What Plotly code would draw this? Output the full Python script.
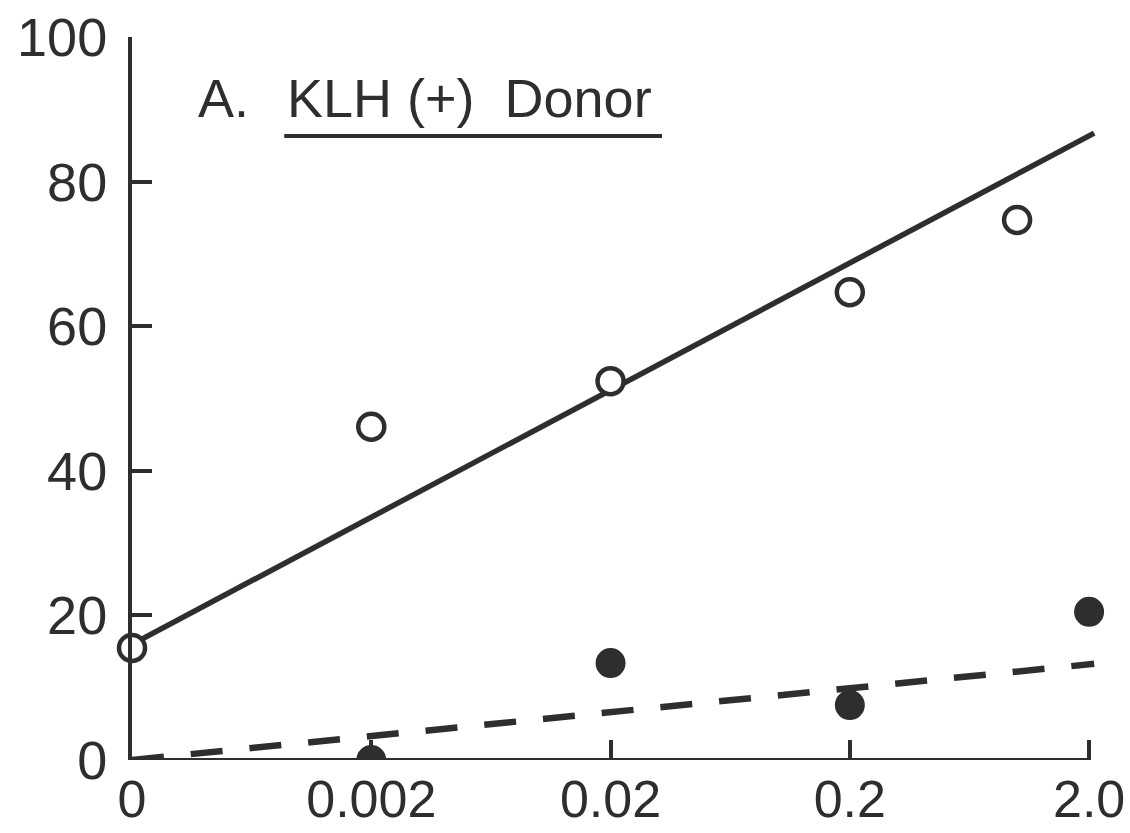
import plotly.graph_objects as go

# Antigen dose (log scale); the "0" dose sits one decade below 0.002
tick_pos = [0.0002, 0.002, 0.02, 0.2, 2.0]
tick_text = ["0", "0.002", "0.02", "0.2", "2.0"]
y_ticks = [0, 20, 40, 60, 80, 100]

# Open circles
open_x = [0.0002, 0.002, 0.02, 0.2, 1.0, 2.0]
open_y = [15.5, 46.1, 52.4, 64.7, 74.7, 101.4]

# Filled circles
filled_x = [0.002, 0.02, 0.2, 2.0]
filled_y = [0.0, 13.4, 7.6, 20.5]

# Fitted lines (end points)
solid_x = [0.0002, 2.1]
solid_y = [16.0, 86.7]
dashed_x = [0.0002, 2.1]
dashed_y = [0.0, 13.3]

INK = "#2e2e2e"
FONT = "Liberation Sans"

fig = go.Figure()

fig.add_trace(go.Scatter(
    x=solid_x, y=solid_y, mode="lines",
    line=dict(color=INK, width=5.5), hoverinfo="skip", showlegend=False,
))
fig.add_trace(go.Scatter(
    x=dashed_x, y=dashed_y, mode="lines",
    line=dict(color=INK, width=6.5, dash="32px,27px"), hoverinfo="skip", showlegend=False,
))
fig.add_trace(go.Scatter(
    x=filled_x, y=filled_y, mode="markers", cliponaxis=True,
    marker=dict(size=28, color=INK, line=dict(color=INK, width=2)),
    showlegend=False,
))
fig.add_trace(go.Scatter(
    x=open_x, y=open_y, mode="markers", cliponaxis=False,
    marker=dict(size=26, color="white", line=dict(color=INK, width=4.5)),
    showlegend=False,
))

# x axis baseline from the origin to the last dose tick
fig.add_shape(
    type="line", xref="x", yref="y",
    x0=tick_pos[0], x1=tick_pos[-1], y0=0, y1=0,
    line=dict(color=INK, width=4), layer="above",
)

# Panel title with underline
fig.add_annotation(
    xref="paper", yref="paper", x=0.066, y=0.915, xanchor="left", yanchor="middle",
    text="A.", showarrow=False, font=dict(family=FONT, size=54, color=INK),
)
fig.add_annotation(
    xref="paper", yref="paper", x=0.157, y=0.915, xanchor="left", yanchor="middle",
    text="KLH (+)  Donor", showarrow=False, font=dict(family=FONT, size=54, color=INK),
)
fig.add_shape(
    type="line", xref="paper", yref="paper",
    x0=0.156, x1=0.543, y0=0.863, y1=0.863,
    line=dict(color=INK, width=4),
)

fig.update_xaxes(
    type="log", range=[-3.699, 0.38], automargin=False,
    showline=False, showgrid=False, zeroline=False,
    tickvals=tick_pos, ticktext=tick_text,
    ticks="inside", ticklen=20, tickwidth=4, tickcolor=INK,
    tickfont=dict(family=FONT, size=52, color=INK),
    ticklabelstandoff=4,
)
fig.update_yaxes(
    range=[0, 100], automargin=False,
    showline=True, linewidth=4, linecolor=INK,
    showgrid=False, zeroline=False,
    tickvals=y_ticks, ticks="inside", ticklen=20, tickwidth=4, tickcolor=INK,
    tickfont=dict(family=FONT, size=54, color=INK),
    ticklabelstandoff=10,
)

fig.update_layout(
    width=1130, height=833, autosize=False,
    margin=dict(l=132, r=22, t=37, b=73),
    paper_bgcolor="white", plot_bgcolor="white",
)

fig.write_html("out.html")
